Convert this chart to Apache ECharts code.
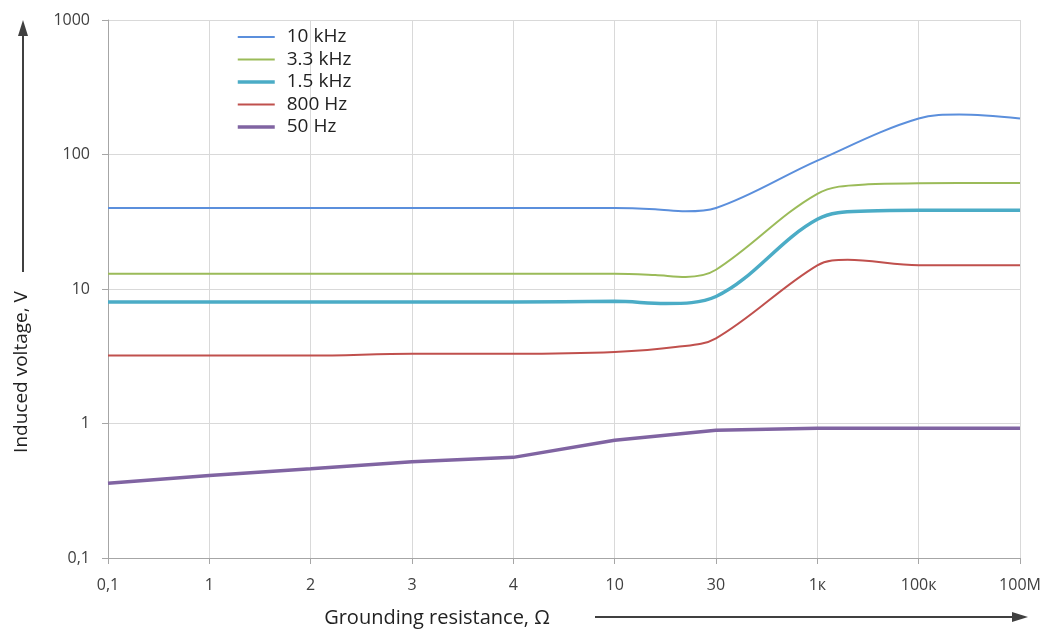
<!DOCTYPE html>
<html><head><meta charset="utf-8">
<script src="https://cdn.jsdelivr.net/npm/echarts@6/dist/echarts.min.js"></script>
<style>html,body{margin:0;padding:0;background:#fff}#c{width:1058px;height:630px}</style>
</head><body><div id="c"></div>
<script>
const categories = ['0,1','1','2','3','4','10','30','1к','100к','100M'];
const yTicks = [0.1, 1, 10, 100, 1000];
const seriesNames = ['10 kHz','3.3 kHz','1.5 kHz','800 Hz','50 Hz'];
// [position along the category axis (index), voltage]
const s10k  = [[0,40],[1,40],[2,40],[3,40],[4,40],[5,40],[5.4,39.2],[5.7,37.8],[6,40],[7,90],[8,185],[8.4,198],[9,185]];
const s3k3  = [[0,13],[1,13],[2,13],[3,13],[4,13],[5,13],[5.4,12.7],[5.7,12.3],[6,13.9],[7,51],[7.5,60],[8,61],[9,61.5]];
const s1k5  = [[0,8],[1,8],[2,8],[3,8],[4,8],[5,8.1],[5.5,7.8],[6,8.8],[7,33],[7.5,38],[8,38.5],[9,38.5]];
const s800  = [[0,3.2],[1,3.2],[2,3.2],[3,3.3],[4,3.3],[5,3.4],[5.6,3.7],[6,4.3],[7,15],[7.3,16.5],[8,15],[9,15]];
const s50   = [[0,0.36],[1,0.41],[2,0.46],[3,0.52],[4,0.56],[5,0.75],[6,0.89],[7,0.92],[8,0.92],[9,0.92]];

const colors = ['#5b8fdc','#9bbb59','#4bacc6','#c0504d','#8064a2'];
const widths = [2,2,3.5,2,3.5];
const smooths = [0.35,0.35,0.35,0.35,false];
const datas = [s10k,s3k3,s1k5,s800,s50];
const fontFam = '"Open Sans", "DejaVu Sans", sans-serif';

const chart = echarts.init(document.getElementById('c'), null, {renderer:'canvas'});
chart.setOption({
  animation:false,
  backgroundColor:'#fff',
  grid:{left:108,right:38,top:20,bottom:72,containLabel:false},
  legend:{
    orient:'vertical', left:236, top:27.5, padding:0, itemWidth:37, itemHeight:14, itemGap:3.5,
    itemStyle:{opacity:0},
    data:seriesNames.map((n,i)=>({name:n, lineStyle:{width:widths[i], color:colors[i]}})),
    textStyle:{fontSize:19, color:'#222', fontFamily:fontFam, padding:[0,0,0,7]}
  },
  xAxis:{
    type:'value', min:0, max:categories.length-1, interval:1,
    axisLine:{show:true,lineStyle:{color:'#a6a6a6',width:1}},
    axisTick:{show:true,length:6,lineStyle:{color:'#a6a6a6'}},
    splitLine:{show:true,lineStyle:{color:'#d9d9d9',width:1}},
    axisLabel:{formatter:v=>categories[Math.round(v)], fontSize:16, color:'#404040', margin:19, fontFamily:fontFam}
  },
  yAxis:{
    type:'log', logBase:10, min:yTicks[0], max:yTicks[yTicks.length-1],
    axisLine:{show:true,lineStyle:{color:'#a6a6a6',width:1}},
    axisTick:{show:true,length:6,lineStyle:{color:'#a6a6a6'}},
    splitLine:{show:true,lineStyle:{color:'#d9d9d9',width:1}},
    axisLabel:{formatter:v=>String(v).replace('.',','), fontSize:16, color:'#404040', margin:18, fontFamily:fontFam}
  },
  series: seriesNames.map((n,i)=>({
    name:n, type:'line', data:datas[i], smooth:smooths[i], symbol:'none',
    lineStyle:{color:colors[i], width:widths[i]}, itemStyle:{color:colors[i]}
  })),
  graphic:[
    {type:'line', shape:{x1:23,y1:272,x2:23,y2:34}, style:{stroke:'#404040',lineWidth:2}},
    {type:'polygon', shape:{points:[[23,20],[18,36],[28,36]]}, style:{fill:'#404040'}},
    {type:'text', x:22, y:372, rotation:Math.PI/2, style:{text:'Induced voltage, V', fontSize:19, fill:'#222', fontFamily:fontFam, align:'center', verticalAlign:'middle'}},
    {type:'text', x:437, y:618, style:{text:'Grounding resistance, Ω', fontSize:20, fill:'#222', fontFamily:fontFam, align:'center', verticalAlign:'middle'}},
    {type:'line', shape:{x1:595,y1:617,x2:1014,y2:617}, style:{stroke:'#404040',lineWidth:2}},
    {type:'polygon', shape:{points:[[1028,617],[1012,612],[1012,622]]}, style:{fill:'#404040'}}
  ]
});
</script></body></html>
